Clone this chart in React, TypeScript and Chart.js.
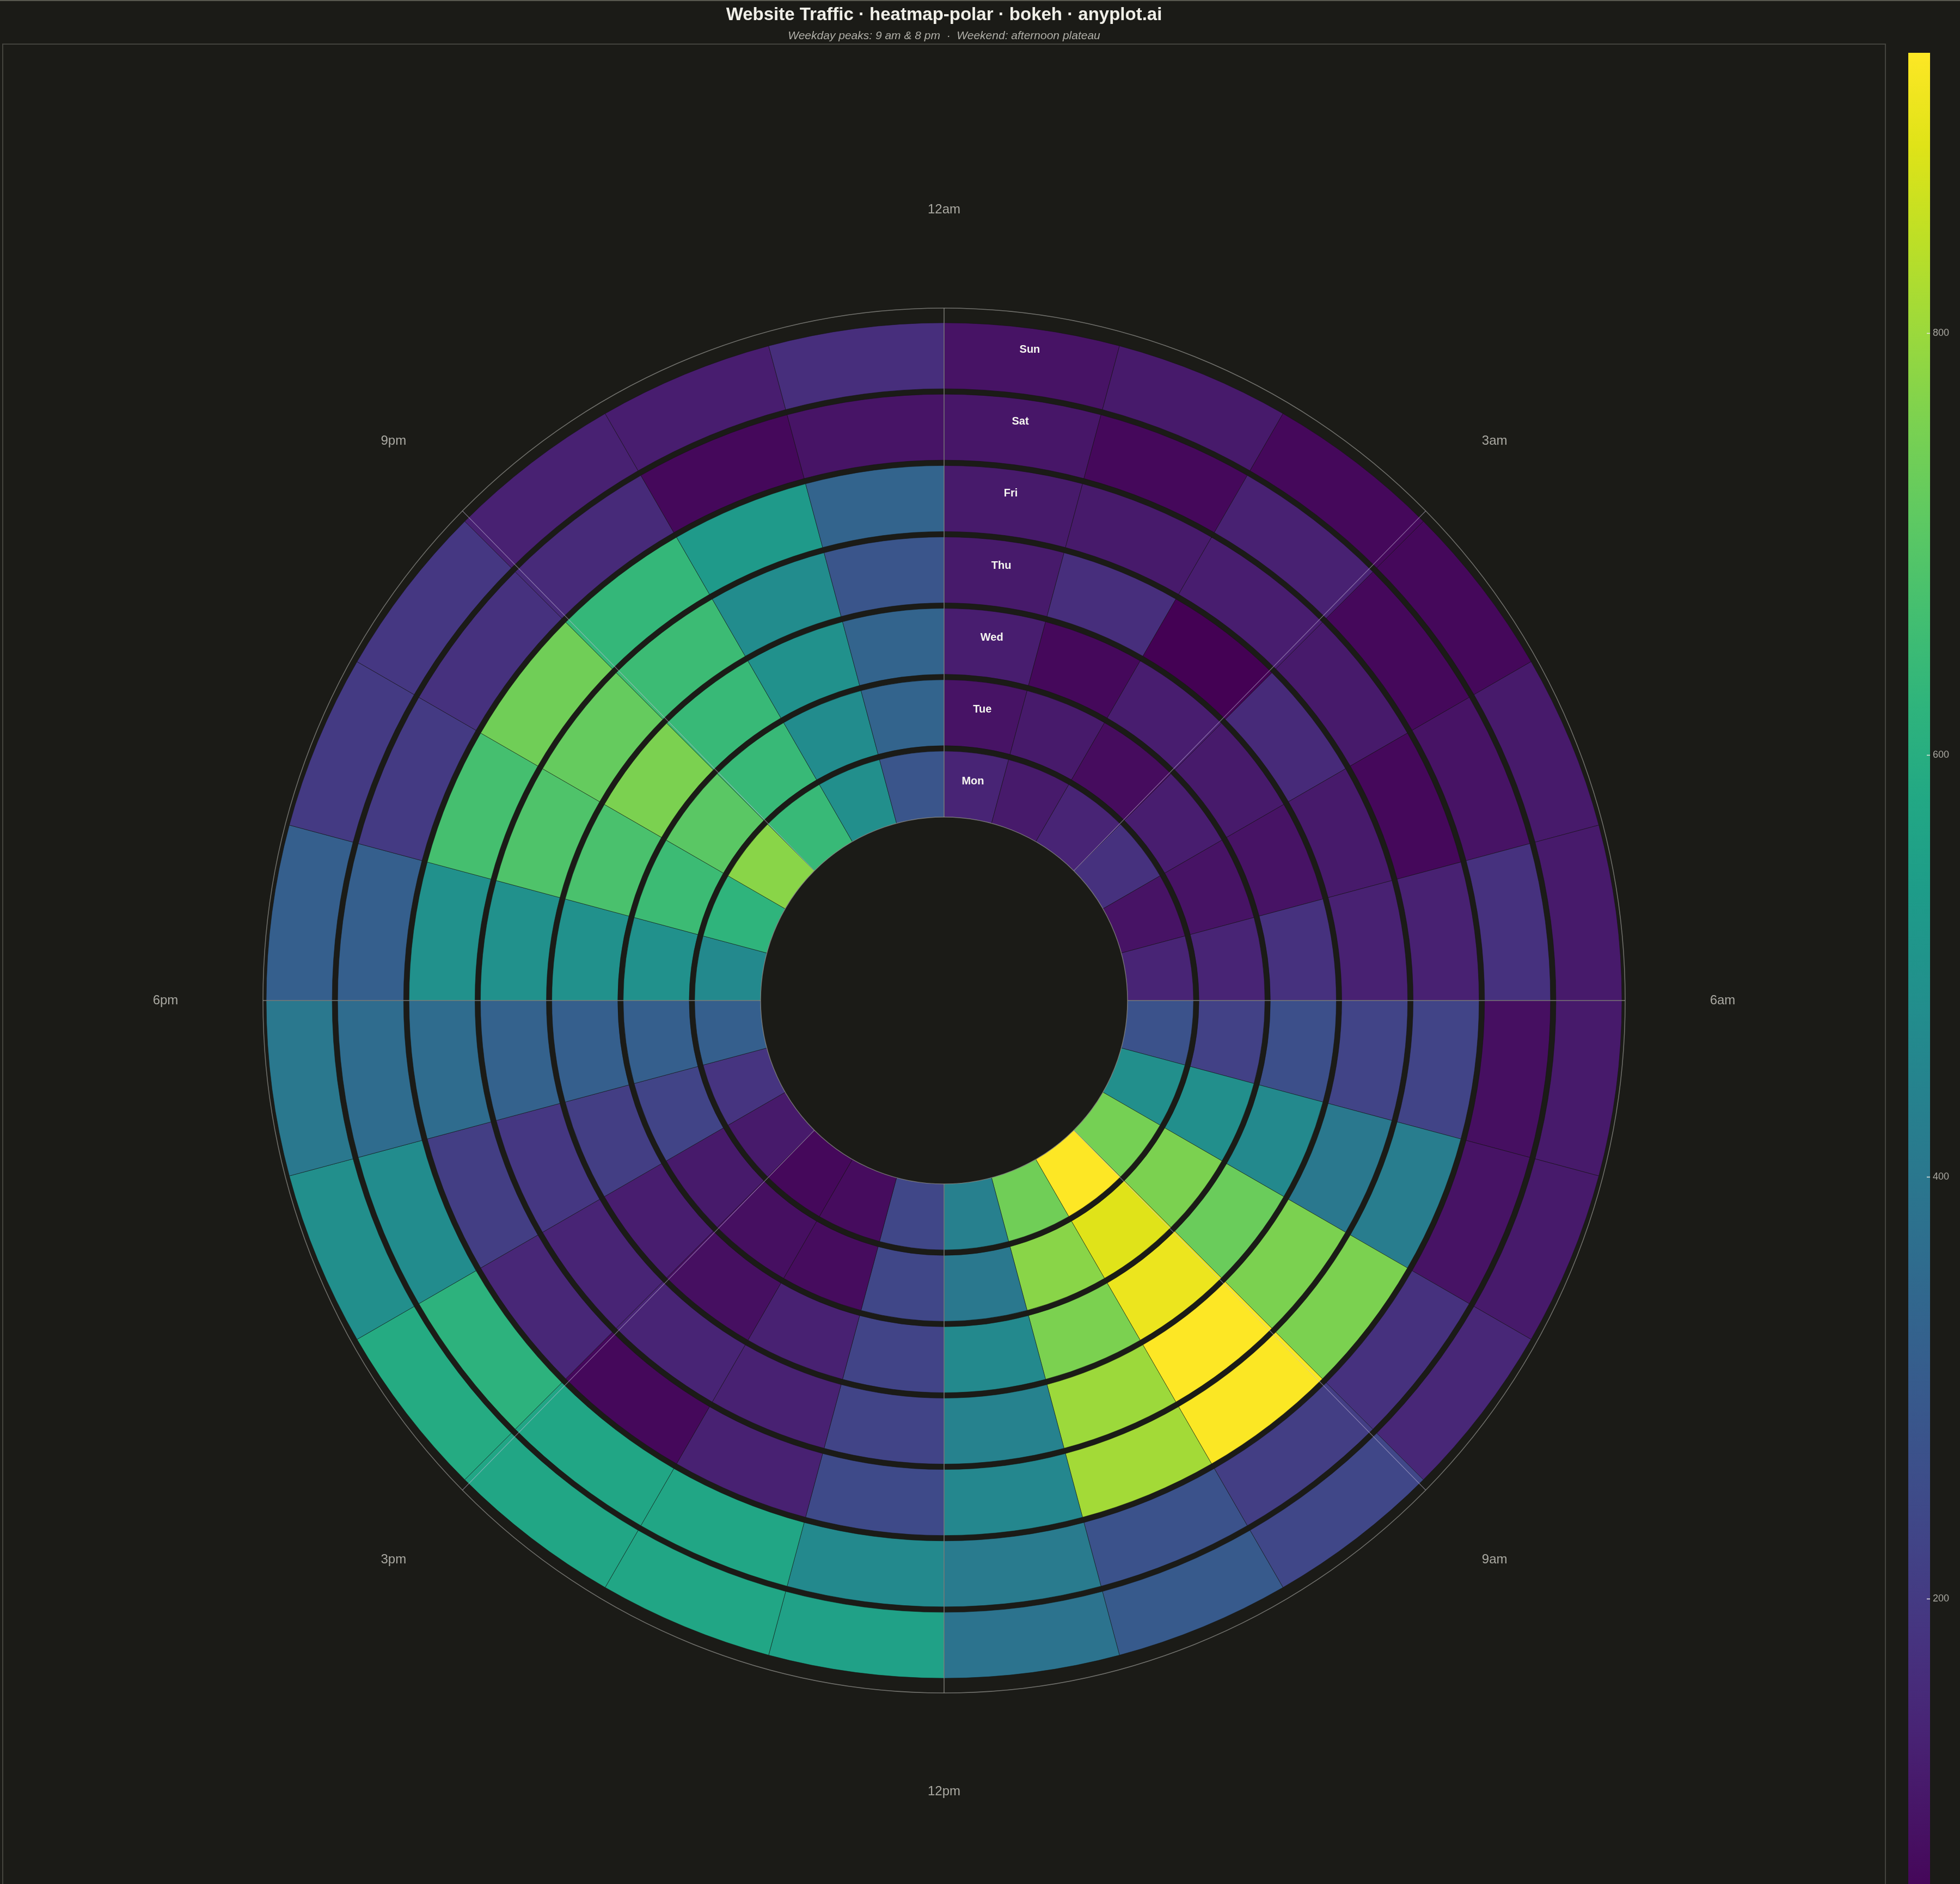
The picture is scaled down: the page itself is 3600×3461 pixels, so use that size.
import { useEffect, useRef } from "react";
import { Chart, registerables } from "chart.js";

Chart.register(...registerables);

// hourly visits, 12am .. 11pm
const DAYS = ["Mon", "Tue", "Wed", "Thu", "Fri", "Sat", "Sun"];
const mon = [139, 112, 139, 174, 94, 139, 271, 484, 749, 933, 740, 431, 236, 77, 68, 112, 183, 316, 466, 625, 776, 643, 484, 280];
const tue = [94, 112, 77, 121, 94, 139, 218, 484, 758, 891, 776, 404, 236, 77, 85, 112, 227, 316, 492, 652, 705, 643, 475, 333];
const wed = [121, 68, 121, 112, 94, 174, 262, 466, 731, 908, 758, 466, 227, 130, 85, 121, 209, 316, 492, 678, 758, 643, 492, 333];
const thu = [112, 165, 50, 156, 112, 130, 227, 404, 758, 933, 802, 439, 227, 130, 139, 139, 192, 324, 492, 687, 723, 652, 475, 280];
const fri = [112, 112, 121, 112, 68, 130, 227, 422, 758, 930, 811, 457, 245, 130, 68, 147, 209, 360, 492, 670, 740, 634, 528, 333];
const sat = [103, 68, 130, 68, 94, 174, 85, 94, 174, 209, 271, 413, 466, 572, 572, 616, 475, 360, 316, 200, 174, 156, 68, 96];
const sun = [94, 112, 68, 68, 112, 112, 112, 112, 147, 236, 298, 386, 554, 572, 572, 590, 484, 404, 316, 200, 192, 130, 121, 165];
const VALUES = [mon, tue, wed, thu, fri, sat, sun];

const HOUR_LABELS = ["12am", "3am", "6am", "9am", "12pm", "3pm", "6pm", "9pm"];
const CB_TICKS = [200, 400, 600, 800];
const VMIN = 50;
const VMAX = 933;

const W = 3600;
const H = 3461;
const BG = "#1b1b17";
const FONT = "'Liberation Sans', Arial, Helvetica, sans-serif";

const VIRIDIS = [
    "#440154", "#471365", "#482475", "#463480", "#414487", "#3b528b", "#355f8d",
    "#2f6c8e", "#2a788e", "#25848e", "#21918c", "#1e9c89", "#22a884", "#2fb47c",
    "#44bf70", "#5ec962", "#7ad151", "#9bd93c", "#bddf26", "#dfe318", "#fde725",
];

const hex = (h: string) => [1, 3, 5].map((i) => parseInt(h.slice(i, i + 2), 16));

const viridis = (v: number) => {
    let t = (v - VMIN) / (VMAX - VMIN);
    t = Math.max(0, Math.min(1, t));
    const p = t * (VIRIDIS.length - 1);
    const i = Math.min(Math.floor(p), VIRIDIS.length - 2);
    const f = p - i;
    const a = hex(VIRIDIS[i]);
    const b = hex(VIRIDIS[i + 1]);
    const c = a.map((x, k) => Math.round(x + (b[k] - x) * f));
    return `rgb(${c[0]},${c[1]},${c[2]})`;
};

// outermost ring first (Sun), spacer rings between days
const buildDatasets = () => {
    const sets: any[] = [];
    for (let d = DAYS.length - 1; d >= 0; d--) {
        sets.push({
            label: DAYS[d],
            data: VALUES[d].map(() => 1),
            backgroundColor: VALUES[d].map(viridis),
            borderColor: "rgba(18,18,15,0.55)",
            borderWidth: 1,
            weight: 121,
        });
        if (d > 0) {
            sets.push({
                label: "",
                data: [1],
                backgroundColor: "rgba(0,0,0,0)",
                borderWidth: 0,
                weight: 10,
            });
        }
    }
    return sets;
};

const decorations = {
    id: "decorations",
    beforeDraw(chart: any) {
        const { ctx, width, height } = chart;
        const cx = (chart.chartArea.left + chart.chartArea.right) / 2;
        ctx.save();
        ctx.fillStyle = BG;
        ctx.fillRect(0, 0, width, height);

        ctx.strokeStyle = "#58584f";
        ctx.lineWidth = 2;
        ctx.beginPath();
        ctx.moveTo(0, 1);
        ctx.lineTo(width, 1);
        ctx.stroke();
        ctx.strokeStyle = "#44443e";
        ctx.strokeRect(5, 81, 3458, height);

        ctx.textAlign = "center";
        ctx.textBaseline = "alphabetic";
        ctx.fillStyle = "#f0efe8";
        ctx.font = `bold 33px ${FONT}`;
        ctx.fillText("Website Traffic · heatmap-polar · bokeh · anyplot.ai", cx, 37);
        ctx.fillStyle = "#b0afa8";
        ctx.font = `italic 21px ${FONT}`;
        ctx.fillText("Weekday peaks: 9 am & 8 pm  ·  Weekend: afternoon plateau", cx, 72);
        ctx.restore();
    },
    afterDatasetsDraw(chart: any) {
        const { ctx, height } = chart;
        const n = chart.data.datasets.length;
        const first = chart.getDatasetMeta(0).data[0];
        const last = chart.getDatasetMeta(n - 1).data[0];
        const cx = first.x;
        const cy = first.y;
        const outerR = first.outerRadius;
        const innerR = last.innerRadius;
        // the angular axis is slightly elliptical in the original
        const axisRx = outerR + 6;
        const axisRy = outerR + 27;

        ctx.save();
        ctx.strokeStyle = "rgba(150,150,145,0.7)";
        ctx.lineWidth = 1.5;
        ctx.beginPath();
        ctx.ellipse(cx, cy, axisRx, axisRy, 0, 0, Math.PI * 2);
        ctx.stroke();
        ctx.beginPath();
        ctx.arc(cx, cy, innerR, 0, Math.PI * 2);
        ctx.stroke();

        // radial grid lines every 3 hours
        for (let k = 0; k < 8; k++) {
            const th = (k * 45 * Math.PI) / 180;
            const sx = Math.sin(th);
            const sy = -Math.cos(th);
            ctx.strokeStyle = k % 2 === 0 ? "rgba(160,160,155,0.7)" : "rgba(200,190,220,0.55)";
            ctx.lineWidth = k % 2 === 0 ? 1.5 : 1.2;
            ctx.beginPath();
            ctx.moveTo(cx + innerR * sx, cy + innerR * sy);
            ctx.lineTo(cx + axisRx * sx, cy + axisRy * sy);
            ctx.stroke();
        }

        // day labels inside the 12am cell of each ring
        ctx.fillStyle = "#f5f5f0";
        ctx.font = `bold 20px ${FONT}`;
        ctx.textAlign = "center";
        ctx.textBaseline = "middle";
        for (let d = 0; d < DAYS.length; d++) {
            const arc = chart.getDatasetMeta((DAYS.length - 1 - d) * 2).data[0];
            const a = (arc.startAngle + arc.endAngle) / 2;
            const r = (arc.innerRadius + arc.outerRadius) / 2 + 8 + 2.3 * d;
            ctx.fillText(DAYS[d], cx + r * Math.cos(a), cy + r * Math.sin(a));
        }

        // hour labels
        ctx.fillStyle = "#aaa9a2";
        ctx.font = `24px ${FONT}`;
        const labRx = axisRx + 179;
        const labRy = axisRy + 181;
        HOUR_LABELS.forEach((lab, k) => {
            const th = (k * 45 * Math.PI) / 180;
            ctx.fillText(lab, cx + labRx * Math.sin(th), cy - labRy * Math.cos(th));
        });

        // colour bar
        const cbX = 3505;
        const cbW = 40;
        const cbTop = 97;
        const pxPerUnit = 3.875;
        const yOf = (v: number) => cbTop + (VMAX - v) * pxPerUnit;
        const cbBottom = yOf(VMIN);
        const grad = ctx.createLinearGradient(0, cbBottom, 0, cbTop);
        VIRIDIS.forEach((c, i) => grad.addColorStop(i / (VIRIDIS.length - 1), c));
        ctx.fillStyle = grad;
        ctx.fillRect(cbX, cbTop, cbW, Math.min(cbBottom, height) - cbTop);

        ctx.strokeStyle = "#e8e8e0";
        ctx.lineWidth = 1.5;
        ctx.fillStyle = "#aaa9a2";
        ctx.font = `18px ${FONT}`;
        ctx.textAlign = "left";
        CB_TICKS.forEach((t) => {
            const y = yOf(t);
            ctx.beginPath();
            ctx.moveTo(cbX + cbW - 6, y);
            ctx.lineTo(cbX + cbW, y);
            ctx.stroke();
            ctx.fillText(String(t), cbX + cbW + 5, y);
        });
        ctx.restore();
    },
};

const App = () => {
    const chartRef = useRef<HTMLCanvasElement | null>(null);
    const chartInstanceRef = useRef<Chart | null>(null);

    useEffect(() => {
        if (!chartRef.current) return;
        if (chartInstanceRef.current) chartInstanceRef.current.destroy();

        chartInstanceRef.current = new Chart(chartRef.current, {
            type: "doughnut",
            data: {
                labels: mon.map((_, h) => String(h)),
                datasets: buildDatasets(),
            },
            options: {
                animation: false,
                responsive: false,
                events: [],
                rotation: 0,
                circumference: 360,
                radius: 1245,
                cutout: `${(337 / 1245) * 100}%`,
                layout: { padding: { left: 5, right: 137, top: 215, bottom: 0 } },
                plugins: {
                    legend: { display: false },
                    tooltip: { enabled: false },
                },
            } as any,
            plugins: [decorations],
        });

        return () => {
            if (chartInstanceRef.current) {
                chartInstanceRef.current.destroy();
                chartInstanceRef.current = null;
            }
        };
    }, []);

    return (
        <div style={{ position: "absolute", left: 0, top: 0, width: W, height: H, background: BG, overflow: "hidden" }}>
            <canvas ref={chartRef} width={W} height={H} style={{ display: "block", width: W, height: H }} />
        </div>
    );
};

export default App;
